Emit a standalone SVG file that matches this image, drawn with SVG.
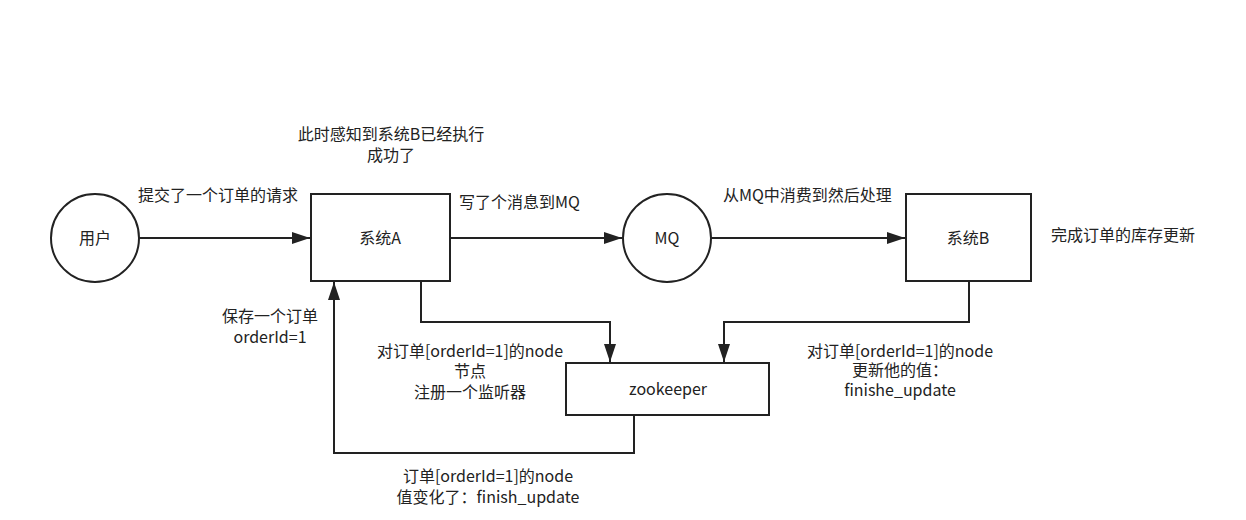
<svg xmlns="http://www.w3.org/2000/svg" width="1246" height="520" viewBox="0 0 1246 520">
<style>
.shape{fill:#fff;stroke:#222;stroke-width:2}
.conn{fill:none;stroke:#222;stroke-width:2}
text{font-family:"Noto Sans CJK SC","Noto Sans",sans-serif;font-size:16px;fill:#222}
.c{text-anchor:middle}
</style>
<defs>
<marker id="ah" markerWidth="18" markerHeight="12" refX="18" refY="6" orient="auto" markerUnits="userSpaceOnUse">
<path d="M0,0 L18,6 L0,12 Z" fill="#222"/>
</marker>
</defs>
<rect width="1246" height="520" fill="#fff"/>
<g id="connectors">
<path class="conn" d="M139,238 H310" marker-end="url(#ah)"/>
<path class="conn" d="M450,238 H622" marker-end="url(#ah)"/>
<path class="conn" d="M711,238 H905" marker-end="url(#ah)"/>
<path class="conn" d="M421,281 V322 H610 V362" marker-end="url(#ah)"/>
<path class="conn" d="M969,281 V322 H724 V362" marker-end="url(#ah)"/>
<path class="conn" d="M634,415 V453 H334 V282" marker-end="url(#ah)"/>
</g>
<g id="user"><circle class="shape" cx="95" cy="238" r="44"/><text class="c" x="95" y="244">用户</text></g>
<g id="systemA"><rect class="shape" x="311" y="194" width="139" height="87"/><text class="c" x="380" y="244">系统A</text></g>
<g id="mq"><circle class="shape" cx="667" cy="238" r="44"/><text class="c" x="667" y="244">MQ</text></g>
<g id="systemB"><rect class="shape" x="906" y="194" width="125" height="87"/><text class="c" x="968" y="244">系统B</text></g>
<g id="zookeeper"><rect class="shape" x="566" y="363" width="203" height="52"/><text class="c" x="668" y="395">zookeeper</text></g>
<g id="labels">
<text class="c" x="218" y="201">提交了一个订单的请求</text>
<text class="c" x="391" y="140">此时感知到系统B已经执行</text>
<text class="c" x="391" y="161">成功了</text>
<text x="459" y="208">写了个消息到MQ</text>
<text x="723" y="201">从MQ中消费到然后处理</text>
<text x="1051" y="241">完成订单的库存更新</text>
<text class="c" x="270" y="322">保存一个订单</text>
<text class="c" x="270" y="343">orderId=1</text>
<text class="c" x="470" y="357">对订单[orderId=1]的node</text>
<text class="c" x="470" y="377">节点</text>
<text class="c" x="470" y="398">注册一个监听器</text>
<text class="c" x="900" y="357">对订单[orderId=1]的node</text>
<text class="c" x="900" y="376">更新他的值：</text>
<text class="c" x="900" y="396">finishe_update</text>
<text class="c" x="488" y="482">订单[orderId=1]的node</text>
<text class="c" x="488" y="503">值变化了：finish_update</text>
</g>
</svg>
